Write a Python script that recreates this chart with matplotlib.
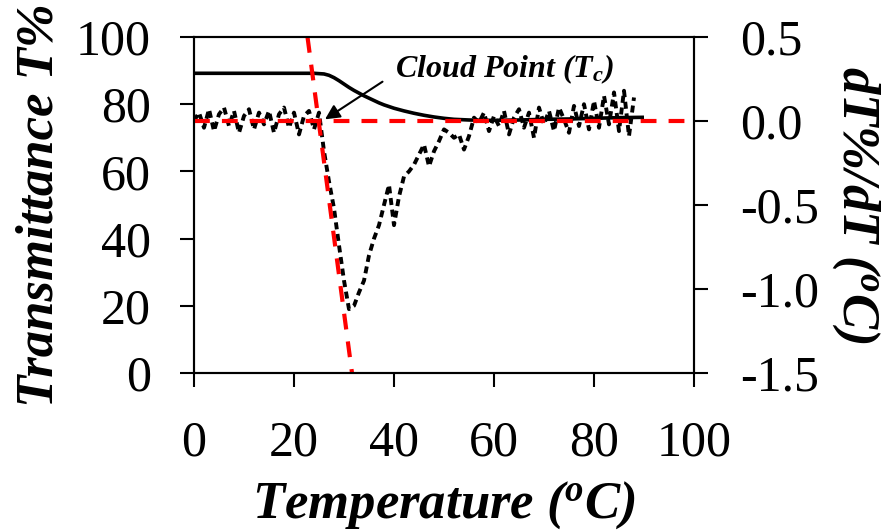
import matplotlib
matplotlib.use("Agg")
import matplotlib.pyplot as plt

# Transmittance curve (left axis)
temp_t = [0, 5, 10, 15, 20, 24, 26, 27, 28, 29, 30, 31, 32, 33, 34, 35, 36, 37,
          38, 39, 40, 42, 44, 46, 48, 50, 52, 55, 58, 60, 65, 70, 75, 80, 85, 90]
trans = [89.2, 89.2, 89.2, 89.2, 89.2, 89.2, 89.0, 88.6, 87.9, 87.0, 86.0, 85.0,
         84.1, 83.3, 82.5, 81.8, 81.1, 80.4, 79.8, 79.3, 78.8, 78.0, 77.3, 76.7,
         76.2, 75.8, 75.5, 75.3, 75.2, 75.2, 75.3, 75.5, 75.6, 75.8, 76.0, 76.1]

# Derivative dT%/dT (right axis)
temp_d = [0, 1, 2, 3, 4, 5, 6, 7, 8, 9, 10, 11, 12, 13, 14, 15, 16, 17, 18, 19,
          20, 21, 22, 23, 24, 25, 26, 27, 28, 29, 30, 31, 32, 33, 34, 35, 36, 37,
          38, 39, 40, 41, 42, 43, 44, 45, 46, 47, 48, 49, 50, 51, 52, 53, 54, 55,
          56, 57, 58, 59, 60, 61, 62, 63, 64, 65, 66, 67, 68, 69, 70, 71, 72, 73,
          74, 75, 76, 77, 78, 79, 80, 81, 82, 83, 84, 85, 86, 87, 88]
deriv = [0.00, 0.05, -0.04, 0.07, -0.06, 0.04, 0.08, -0.03, 0.06, -0.07,
         0.03, 0.07, -0.05, 0.05, -0.02, 0.06, -0.07, 0.04, 0.08, -0.04,
         0.05, -0.08, 0.03, 0.06, -0.05, 0.05, -0.18, -0.36, -0.52, -0.74,
         -0.95, -1.12, -1.10, -1.02, -0.95, -0.80, -0.70, -0.62, -0.50, -0.38,
         -0.62, -0.45, -0.33, -0.30, -0.26, -0.20, -0.14, -0.27, -0.18, -0.12,
         -0.05, -0.07, -0.10, -0.08, -0.17, -0.09, 0.02, -0.01, 0.05, -0.06,
         0.03, -0.03, 0.06, -0.08, 0.02, 0.07, -0.04, 0.05, -0.10, 0.08,
         -0.02, 0.06, -0.06, 0.08, 0.01, -0.07, 0.09, -0.03, 0.10, -0.05,
         0.12, -0.04, 0.15, -0.02, 0.17, -0.06, 0.18, -0.09, 0.14]

# Tangent lines used to locate the cloud point
tangent_x = [22.7, 31.6]
tangent_y = [0.5, -1.5]
base_x = [0, 100]
base_y = [0.0, 0.0]

x_ticks = [0, 20, 40, 60, 80, 100]
left_ticks = [0, 20, 40, 60, 80, 100]
right_ticks = [-1.5, -1.0, -0.5, 0.0, 0.5]
right_labels = ["-1.5", "-1.0", "-0.5", "0.0", "0.5"]

plt.rcParams['font.family'] = ['Liberation Serif', 'DejaVu Serif']
plt.rcParams['mathtext.fontset'] = 'custom'
plt.rcParams['mathtext.it'] = 'Liberation Serif:bold:italic'
plt.rcParams['mathtext.rm'] = 'Liberation Serif:bold:italic'
plt.rcParams['mathtext.bf'] = 'Liberation Serif:bold:italic'

fig = plt.figure(figsize=(8.81, 5.31), dpi=100)
ax1 = fig.add_axes([194/881, 1-373/531, 500/881, 336/531])
ax2 = ax1.twinx()

ax1.plot(temp_t, trans, color='black', lw=2.6, solid_capstyle='butt')

ax2.plot(temp_d, deriv, color='black', lw=2.8, dashes=(1.8, 1.2))
ax2.plot(base_x, base_y, color='red', lw=3.0, dashes=(3.8, 2.9))
ax2.plot(tangent_x, tangent_y, color='red', lw=3.0, dashes=(3.8, 2.9))

ax1.set_xlim(0, 100)
ax1.set_ylim(0, 100)
ax2.set_ylim(-1.5, 0.5)
ax1.set_xticks(x_ticks)
ax1.set_yticks(left_ticks)
ax2.set_yticks(right_ticks)
ax2.set_yticklabels(right_labels)

for ax in (ax1, ax2):
    for s in ax.spines.values():
        s.set_linewidth(1.5)
ax1.tick_params(axis='x', direction='out', length=10, width=1.5, labelsize=36, pad=24)
ax1.tick_params(axis='y', direction='out', length=10, width=1.5, labelsize=36, pad=21)
ax2.tick_params(axis='y', direction='out', length=10, width=1.5, labelsize=36, pad=23)

lab = dict(fontsize=38, fontweight='bold', fontstyle='italic')
ax1.set_xlabel(r'Temperature ($^{o}$C)', **lab)
ax1.xaxis.set_label_coords(0.5, -0.318)
ax1.set_ylabel('Transmittance T%', **lab)
ax1.yaxis.set_label_coords(-0.262, 0.5)
ax2.set_ylabel(r'dT%/dT ($^{o}$C)', rotation=270, va='bottom', **lab)
ax2.yaxis.set_label_coords(1.272, 0.5)

ax1.text(40.2, 88.1, r'Cloud Point ($T_c$)', fontsize=23, fontweight='bold',
         fontstyle='italic', ha='left', va='baseline')
ax1.annotate('', xy=(26.2, 75.5), xytext=(37.7, 86.7),
             arrowprops=dict(arrowstyle='-|>', color='black', lw=1.5,
                             mutation_scale=22, shrinkA=0, shrinkB=0))

fig.savefig('out.png', dpi=100)
